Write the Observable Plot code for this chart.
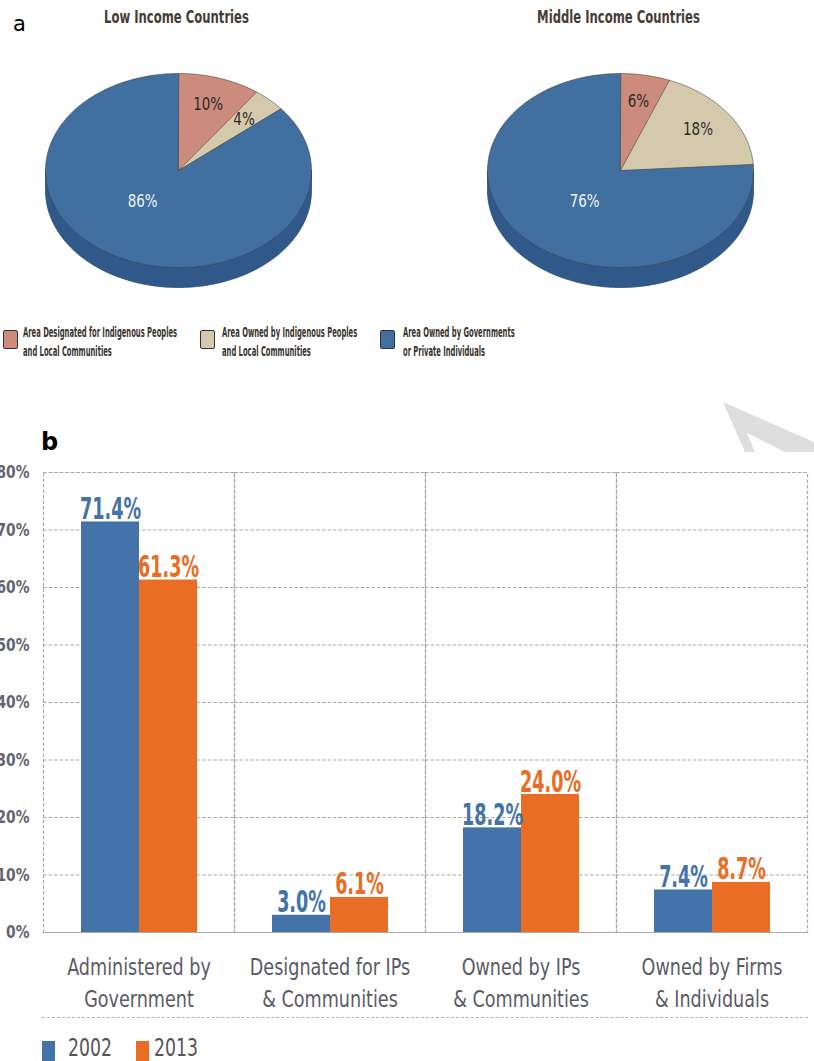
<!DOCTYPE html>
<html><head><meta charset="utf-8">
<script src="https://cdn.jsdelivr.net/npm/d3@7"></script>
<script src="https://cdn.jsdelivr.net/npm/@observablehq/plot@0.6"></script>
<style>
body{margin:0;background:#fff;}
#page{position:relative;width:814px;height:1061px;overflow:hidden;font-family:"DejaVu Sans Condensed","DejaVu Sans",sans-serif;}
.abs{position:absolute;}
.leg-sq{position:absolute;width:15px;height:19px;border:1.5px solid #333;border-radius:2px;box-sizing:border-box;}
.leg-tx{position:absolute;font-weight:bold;font-size:14.5px;line-height:19px;color:#3a342f;white-space:pre;transform:scaleX(0.52);transform-origin:left top;}
</style></head><body><div id="page"></div>
<script>
// ---------- data ----------
const incomeGroups = ["Low Income Countries", "Middle Income Countries"];
const tenureTypes = [
  "Area Designated for Indigenous Peoples\nand Local Communities",
  "Area Owned by Indigenous Peoples\nand Local Communities",
  "Area Owned by Governments\nor Private Individuals"
];
const lowIncomeShares = [10, 4, 86];
const middleIncomeShares = [6, 18, 76];
const tenureColors = ["#cc8b7d", "#d5c9ab", "#4170a0"];

const barCategories = [
  "Administered by\nGovernment",
  "Designated for IPs\n& Communities",
  "Owned by IPs\n& Communities",
  "Owned by Firms\n& Individuals"
];
const years = ["2002", "2013"];
const shares2002 = [71.4, 3.0, 18.2, 7.4];
const shares2013 = [61.3, 6.1, 24.0, 8.7];
const yearColors = ["#4373a8", "#e96d24"];
const yTickValues = [0, 10, 20, 30, 40, 50, 60, 70, 80];

const FONT = '"DejaVu Sans Condensed","DejaVu Sans",sans-serif';
const page = document.getElementById("page");

// squeeze SVG text horizontally (no narrow font is installed)
function squeeze(group, f) {
  if (!group) return;
  group.querySelectorAll("text").forEach(t => {
    const spans = t.querySelectorAll("tspan");
    const els = spans.length ? [...spans] : [t];
    els.forEach(e => {
      const w = e.getComputedTextLength();
      if (w > 0) {
        e.setAttribute("textLength", (w * f).toFixed(1));
        e.setAttribute("lengthAdjust", "spacingAndGlyphs");
      }
    });
  });
}
const groups = (svg, label) => [...svg.querySelectorAll(`g[aria-label="${label}"]`)];

// ---------- panel a : pies ----------
const PIE = {cxs: [178, 620], cy: 170, rx: 133, ry: 97, depth: 20};
const pt = (cx, cy, t, r = 1) => [cx + PIE.rx * r * Math.sin(t), cy - PIE.ry * r * Math.cos(t)];
const slicePts = [], sidePts = [], pieLabels = [];
[lowIncomeShares, middleIncomeShares].forEach((shares, gi) => {
  const cx = PIE.cxs[gi];
  const N = 120;
  for (let k = 0; k <= N; k++) {
    const t = Math.PI / 2 + Math.PI * k / N;
    const [x, y] = pt(cx, PIE.cy, t);
    sidePts.push({id: "s" + gi, x, y: y + PIE.depth});
  }
  for (let k = N; k >= 0; k--) {
    const t = Math.PI / 2 + Math.PI * k / N;
    const [x, y] = pt(cx, PIE.cy, t);
    sidePts.push({id: "s" + gi, x, y});
  }
  const arcs = d3.pie().sort(null)(shares);
  arcs.forEach((a, si) => {
    const id = gi + "-" + si, color = tenureColors[si];
    slicePts.push({id, x: cx, y: PIE.cy, color});
    const n = Math.max(2, Math.ceil((a.endAngle - a.startAngle) / (Math.PI / 180)));
    for (let k = 0; k <= n; k++) {
      const t = a.startAngle + (a.endAngle - a.startAngle) * k / n;
      const [x, y] = pt(cx, PIE.cy, t);
      slicePts.push({id, x, y, color});
    }
    const big = a.value > 50;
    const t = big ? 220 * Math.PI / 180 : (a.startAngle + a.endAngle) / 2;
    const [lx, ly] = pt(cx, PIE.cy, t, big ? 0.42 : 0.72);
    pieLabels.push({x: lx, y: ly, text: a.value + "%", fill: big ? "#eef3f8" : "#2e2a28"});
  });
});
const titles = incomeGroups.map((g, i) => ({x: PIE.cxs[i] - 2, y: 17, text: g}));

const pies = Plot.plot({
  width: 814, height: 300, margin: 0,
  x: {domain: [0, 814], range: [0, 814], axis: null},
  y: {domain: [0, 300], range: [0, 300], axis: null},
  color: {type: "identity"},
  style: {fontFamily: FONT, background: "transparent", overflow: "visible"},
  marks: [
    Plot.line(sidePts, {x: "x", y: "y", z: "id", curve: "linear-closed", fill: "#30598a", stroke: "#2a4f7c", strokeWidth: 0.8}),
    Plot.line(slicePts, {x: "x", y: "y", z: "id", curve: "linear-closed", fill: "color", stroke: "#3a3a3a", strokeWidth: 0.7, strokeOpacity: 0.75}),
    Plot.text(pieLabels, {x: "x", y: "y", text: "text", fill: "fill", fontSize: 17}),
    Plot.text(titles, {x: "x", y: "y", text: "text", fill: "#453d36", fontSize: 17, fontWeight: "bold"})
  ]
});
pies.style.position = "absolute"; pies.style.left = "0px"; pies.style.top = "0px";
page.appendChild(pies);
{
  const tg = groups(pies, "text");
  squeeze(tg[0], 0.88);
  squeeze(tg[1], 0.76);
}

// panel labels
const la = document.createElement("div");
la.className = "abs"; la.textContent = "a";
Object.assign(la.style, {left: "13px", top: "12px", fontFamily: "DejaVu Sans, sans-serif", fontSize: "21px", color: "#000"});
page.appendChild(la);
const lb = document.createElement("div");
lb.className = "abs"; lb.textContent = "b";
Object.assign(lb.style, {left: "41px", top: "428px", fontFamily: "DejaVu Sans, sans-serif", fontSize: "24px", fontWeight: "bold", color: "#000"});
page.appendChild(lb);

// pie legend
const legX = [[3, 23], [200, 222], [380, 403]];
tenureTypes.forEach((t, i) => {
  const sq = document.createElement("div");
  sq.className = "leg-sq";
  Object.assign(sq.style, {left: legX[i][0] + "px", top: "330px", background: tenureColors[i]});
  page.appendChild(sq);
  const tx = document.createElement("div");
  tx.className = "leg-tx"; tx.textContent = t;
  Object.assign(tx.style, {left: legX[i][1] + "px", top: "323px"});
  page.appendChild(tx);
});

// watermark shape
page.insertAdjacentHTML("beforeend",
  '<svg class="abs" style="left:0;top:0" width="814" height="1061"><polygon points="723,402 814,442 814,452 785,452 747,433 755,452 745,452" fill="#dedede"/></svg>');

// ---------- panel b : bars ----------
const rows = [];
barCategories.forEach((c, i) => {
  rows.push({cat: c, year: years[0], value: shares2002[i]});
  rows.push({cat: c, year: years[1], value: shares2013[i]});
});
const grid = {stroke: "#a9a9a9", strokeDasharray: "3.5,2", strokeWidth: 1.2, strokeOpacity: 1};
const bars = Plot.plot({
  width: 814, height: 621,
  marginLeft: 42, marginRight: 6, marginTop: 32, marginBottom: 129,
  fx: {domain: barCategories, padding: 0, label: null},
  x: {domain: years, paddingInner: 0, paddingOuter: 0.62, axis: null},
  y: {domain: [0, 80], label: null},
  color: {domain: years, range: yearColors},
  style: {fontFamily: FONT, background: "transparent"},
  marks: [
    Plot.gridY(yTickValues, grid),
    Plot.frame(grid),
    Plot.barY(rows, {fx: "cat", x: "year", y: "value", fill: "year"}),
    Plot.text(rows, {fx: "cat", x: "year", y: "value", text: d => d.value.toFixed(1) + "%", fill: "year",
      lineAnchor: "bottom", dy: -3, fontSize: 31, fontWeight: "bold"}),
    Plot.axisY(yTickValues, {tickSize: 0, tickPadding: 14, tickFormat: d => d + "%", fontSize: 18,
      fontWeight: "bold", fill: "#64646e", label: null}),
    Plot.axisFx({anchor: "bottom", tickSize: 0, tickPadding: 20, fontSize: 23, lineHeight: 1.39,
      fill: "#5a5a66", label: null})
  ]
});
bars.style.position = "absolute"; bars.style.left = "0px"; bars.style.top = "440px";
page.appendChild(bars);
groups(bars, "text").forEach(g => squeeze(g, 0.63));
groups(bars, "y-axis tick label").forEach(g => squeeze(g, 0.85));
groups(bars, "fx-axis tick label").forEach(g => squeeze(g, 0.85));

// bottom dashed separator + year legend
const sep = document.createElement("div");
sep.className = "abs";
Object.assign(sep.style, {left: "42px", top: "1017px", width: "766px", borderTop: "1.5px dashed #b5b5b5"});
page.appendChild(sep);
const legSq = [42, 136], legTx = [68, 154];
years.forEach((y, i) => {
  const sq = document.createElement("div");
  sq.className = "abs";
  Object.assign(sq.style, {left: legSq[i] + "px", top: "1041px", width: "13px", height: "22px", background: yearColors[i]});
  page.appendChild(sq);
  const tx = document.createElement("div");
  tx.className = "abs"; tx.textContent = y;
  Object.assign(tx.style, {left: legTx[i] + "px", top: "1034px", fontSize: "24px", color: "#555",
    fontFamily: FONT, transform: "scaleX(0.8)", transformOrigin: "left top"});
  page.appendChild(tx);
});
</script></body></html>
